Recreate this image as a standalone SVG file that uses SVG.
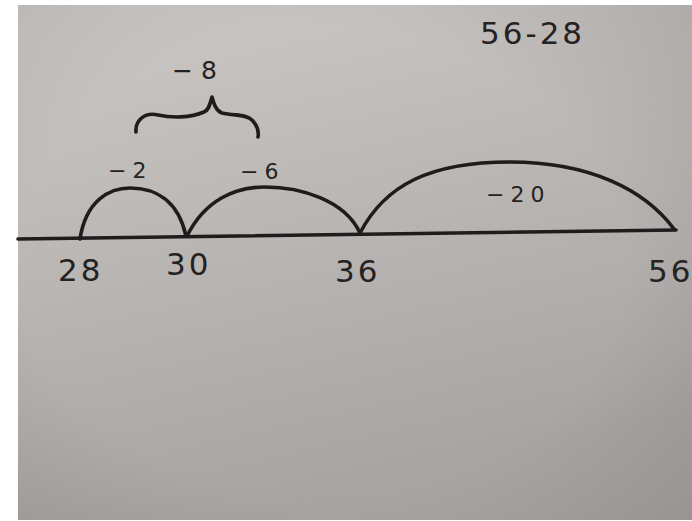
<svg xmlns="http://www.w3.org/2000/svg" width="692" height="521" viewBox="0 0 692 521">
<defs>
<linearGradient id="paper" x1="0" y1="0" x2="0.3" y2="1">
<stop offset="0" stop-color="#cbc8c6"/>
<stop offset="0.45" stop-color="#bcb8b6"/>
<stop offset="1" stop-color="#a8a4a3"/>
</linearGradient>
<radialGradient id="vig" cx="0.45" cy="0.5" r="0.75">
<stop offset="0.6" stop-color="#000" stop-opacity="0"/>
<stop offset="1" stop-color="#000" stop-opacity="0.1"/>
</radialGradient>
<style>
.ink{fill:none;stroke:#1e1c1c;stroke-width:3.6;stroke-linecap:round;stroke-linejoin:round}
.num{font-family:"DejaVu Sans","Liberation Sans",sans-serif;fill:#242222;text-anchor:start}
.big{font-size:31px;letter-spacing:3px}
.mid{font-size:25px;letter-spacing:8px}
.small{font-size:22px;letter-spacing:6px}
</style>
</defs>
<rect width="692" height="521" fill="#ffffff"/>
<rect x="18" y="5" width="674" height="515" fill="url(#paper)"/>
<rect x="18" y="5" width="674" height="515" fill="url(#vig)"/>
<g id="number-line">
<path class="ink" d="M18,239 L676,230"/>
</g>
<g id="connectors">
<path id="jump-2" class="ink" d="M80,239 C86,200 110,188 130,188 C155,188 178,200 186,236"/>
<path id="jump-6" class="ink" d="M187,236 C205,200 235,187 265,187 C300,187 345,200 360,233"/>
<path id="jump-20" class="ink" d="M360,233 C385,185 430,162 510,162 C590,162 645,190 674,229"/>
<path id="brace" class="ink" d="M136,132 C135,120 145,112 158,115 C172,118 190,118 204,112 C209,110 210,104 212,97 C214,104 216,111 222,113 C235,116 246,114 252,120 C257,125 259,131 258,137"/>
</g>
<g id="label-28"><text class="num big" x="58" y="281">28</text></g>
<g id="label-30"><text class="num big" x="166" y="275">30</text></g>
<g id="label-36"><text class="num big" x="335" y="282">36</text></g>
<g id="label-56"><text class="num big" x="648" y="282">56</text></g>
<g id="label-minus2"><text class="num small" x="108" y="178" letter-spacing="10">−2</text></g>
<g id="label-minus6"><text class="num small" x="240" y="179">−6</text></g>
<g id="label-minus20"><text class="num small" x="486" y="202" letter-spacing="4">−20</text></g>
<g id="label-minus8"><text class="num mid" x="172" y="79">−8</text></g>
<g id="title"><text class="num big" x="480" y="44" letter-spacing="5">56-28</text></g>
</svg>
